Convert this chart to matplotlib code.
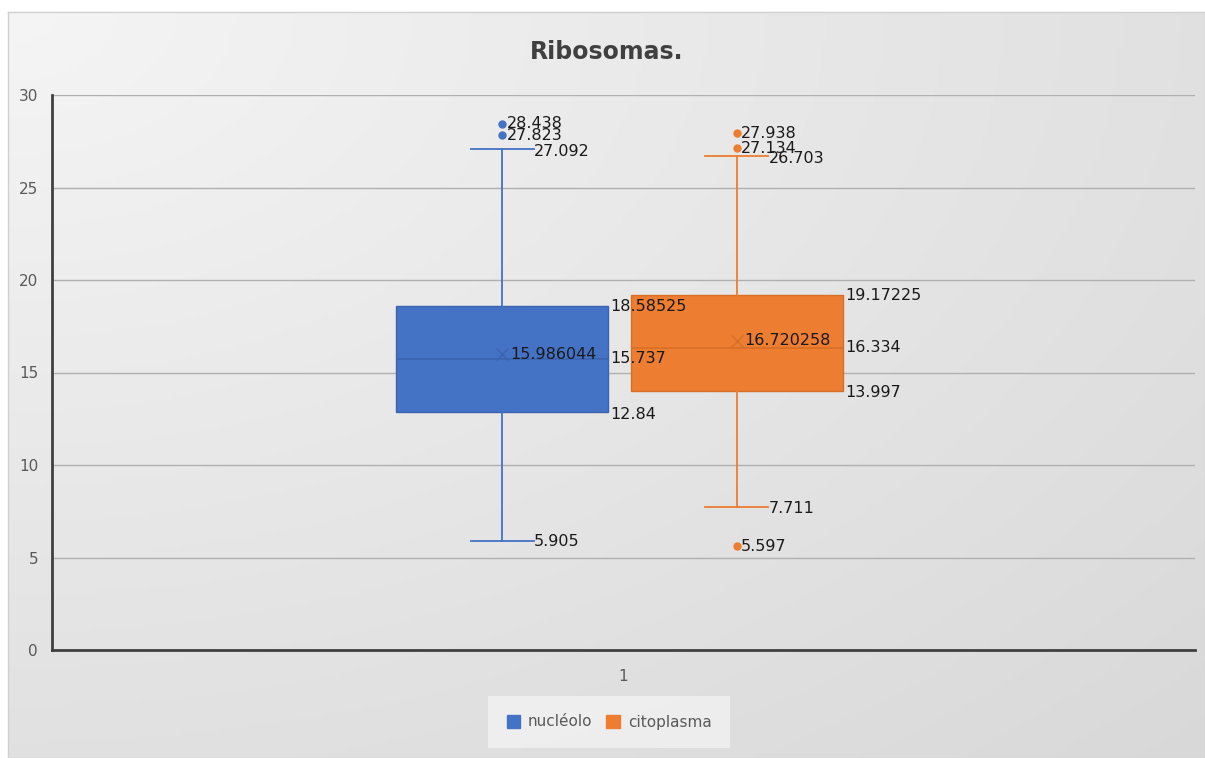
import numpy as np
import matplotlib
matplotlib.use("Agg")
import matplotlib.pyplot as plt
from matplotlib.patches import Rectangle

title = "Ribosomas."
series = ["nucléolo", "citoplasma"]
colors = ["#4472c4", "#ed7d31"]
edge_colors = ["#3a64b0", "#d86f27"]
q1 = [12.84, 13.997]
median = [15.737, 16.334]
q3 = [18.58525, 19.17225]
mean = [15.986044, 16.720258]
whislo = [5.905, 7.711]
whishi = [27.092, 26.703]
fliers = [[28.438, 27.823], [27.938, 27.134, 5.597]]
mean_labels = ["15.986044", "16.720258"]
q1_labels = ["12.84", "13.997"]
med_labels = ["15.737", "16.334"]
q3_labels = ["18.58525", "19.17225"]
lo_labels = ["5.905", "7.711"]
hi_labels = ["27.092", "26.703"]
flier_labels = [["28.438", "27.823"], ["27.938", "27.134", "5.597"]]
category = ["1"]
yticks = [0, 5, 10, 15, 20, 25, 30]

W, H = 1205, 758
fig = plt.figure(figsize=(W / 100, H / 100), dpi=100)
fig.patch.set_facecolor("white")

# background gradient panel
bg = fig.add_axes([8 / W, 0, 1 - 8 / W, 1 - 12 / H], zorder=-10)
xx, yy = np.meshgrid(np.linspace(0, 1, 300), np.linspace(0, 1, 200))
r = np.sqrt((xx * 0.9) ** 2 + (yy * 0.9) ** 2)
g = 0.96 - 0.11 * np.clip(r, 0, 1.25) / 1.25
img = np.dstack([g, g, g])
bg.imshow(img, aspect="auto", extent=[0, 1, 1, 0], origin="upper")
bg.set_xlim(0, 1)
bg.set_ylim(1, 0)
bg.set_xticks([])
bg.set_yticks([])
for s in bg.spines.values():
    s.set_color("#d0d0d0")
    s.set_linewidth(1)

ax = fig.add_axes([52 / W, (H - 650) / H, (1195 - 52) / W, (650 - 95) / H])
ax.set_facecolor("none")
ax.set_xlim(0.5, 1.5)
ax.set_ylim(0, 30)

offsets = [-0.106, 0.099]
width = 0.1855
stats = []
for i in range(2):
    stats.append(dict(med=median[i], q1=q1[i], q3=q3[i], whislo=whislo[i],
                      whishi=whishi[i], mean=mean[i], fliers=fliers[i]))

for i in range(2):
    pos = 1 + offsets[i]
    ax.bxp([stats[i]], positions=[pos], widths=width, patch_artist=True,
           showmeans=True, showfliers=True,
           boxprops=dict(facecolor=colors[i], edgecolor=edge_colors[i], linewidth=1),
           medianprops=dict(color=edge_colors[i], linewidth=1.2),
           whiskerprops=dict(color=colors[i], linewidth=1.3),
           capprops=dict(color=colors[i], linewidth=1.3),
           capwidths=width * 0.3,
           meanprops=dict(marker="x", markeredgecolor=edge_colors[i], markersize=8,
                          markeredgewidth=1),
           flierprops=dict(marker="o", markerfacecolor=colors[i], markeredgecolor=colors[i],
                           markersize=5),
           manage_ticks=False, zorder=3)
    lab = dict(fontsize=11.5, color="#1a1a1a", family="DejaVu Sans", zorder=5,
               ha="left", va="center")
    bx_right = pos + width / 2
    ax.text(bx_right + 0.002, q3[i], q3_labels[i], **lab)
    ax.text(bx_right + 0.002, median[i], med_labels[i], **lab)
    ax.text(bx_right + 0.002, q1[i] - 0.1, q1_labels[i], **lab)
    ax.text(pos + 0.007, mean[i], mean_labels[i], **lab)
    cap_r = pos + width * 0.15
    ax.text(cap_r, whishi[i] - 0.15, hi_labels[i], **lab)
    ax.text(cap_r, whislo[i] - 0.05, lo_labels[i], **lab)
    for v, t in zip(fliers[i], flier_labels[i]):
        ax.text(pos + 0.004, v, t, **lab)

ax.set_xticks([1])
ax.set_xticklabels(category)
ax.set_yticks(yticks)
ax.tick_params(axis="both", length=0, labelsize=11, labelcolor="#595959", pad=10)
ax.tick_params(axis="x", pad=14)
ax.grid(axis="y", color="#b0b0b0", linewidth=1, zorder=0)
ax.set_axisbelow(True)
for s in ["top", "right"]:
    ax.spines[s].set_visible(False)
ax.spines["left"].set_color("#404040")
ax.spines["left"].set_linewidth(2)
ax.spines["bottom"].set_color("#404040")
ax.spines["bottom"].set_linewidth(2)

fig.text(0.5 + 4 / W, 1 - 52 / H, title, ha="center", va="center", fontsize=17,
         fontweight="bold", color="#404040")

handles = [Rectangle((0, 0), 1, 1, facecolor=c, edgecolor=c) for c in colors]
leg = fig.legend(handles, series, loc="center", bbox_to_anchor=(609 / W, 1 - 722 / H),
                 ncol=2, frameon=True, fontsize=11, handlelength=0.9, handleheight=0.9,
                 handletextpad=0.5, columnspacing=0.9, borderpad=1.2)
leg.get_frame().set_facecolor("#f2f2f2")
leg.get_frame().set_edgecolor("none")
leg.get_frame().set_boxstyle("square", pad=0)
for t in leg.get_texts():
    t.set_color("#595959")

fig.savefig("out.png", dpi=100)
